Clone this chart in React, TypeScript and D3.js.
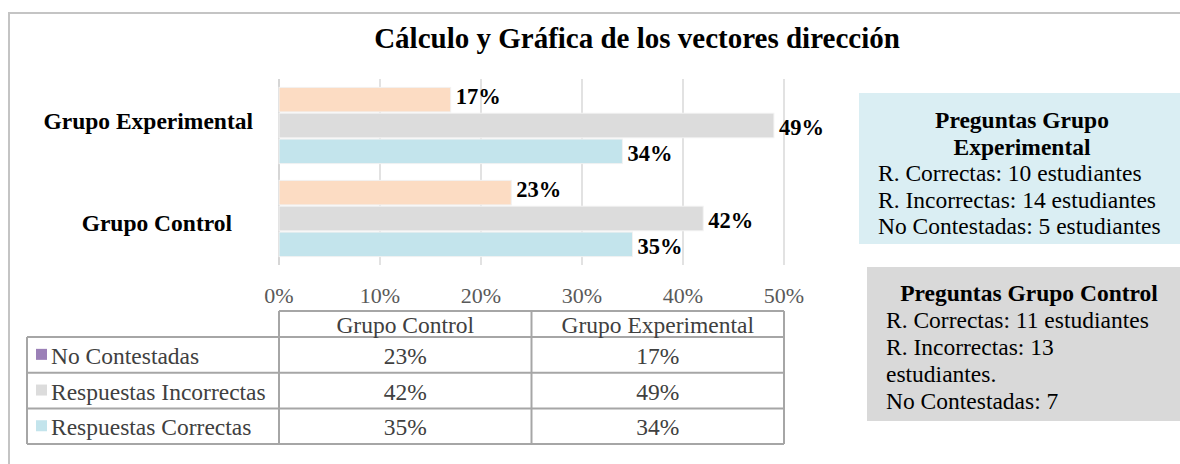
import React from "react";
import * as d3 from "d3";

const categories = ["Grupo Experimental", "Grupo Control"];
const series = ["No Contestadas", "Respuestas Incorrectas", "Respuestas Correctas"];
const valuesExperimental = [0.17, 0.49, 0.34];
const valuesControl = [0.23, 0.42, 0.35];
const barColors = ["#FCDCC3", "#DCDCDC", "#C3E4EC"];
const legendColors = ["#9B80B7", "#DCDCDC", "#C3E4EC"];
const xTicks = [0, 0.1, 0.2, 0.3, 0.4, 0.5];
const tableColumns = ["Grupo Control", "Grupo Experimental"];

const expBoxTitle = ["Preguntas Grupo", "Experimental"];
const expBoxLines = ["R. Correctas: 10 estudiantes", "R. Incorrectas: 14 estudiantes", "No Contestadas: 5 estudiantes"];
const ctlBoxTitle = ["Preguntas Grupo Control"];
const ctlBoxLines = ["R. Correctas: 11 estudiantes", "R. Incorrectas: 13", "estudiantes.", "No Contestadas: 7"];

const FONT = "'Liberation Serif', 'Times New Roman', serif";

export default function App() {
  const W = 1180, H = 464;
  const x = d3.scaleLinear().domain([0, 0.5]).range([279, 784]);
  const y = d3.scaleBand<string>().domain(categories).range([79, 265]).paddingInner(0.18).paddingOuter(0.09);
  const yInner = d3.scaleBand<string>().domain(series).range([0, y.bandwidth()]).paddingInner(0.05);
  const dataByCat: Record<string, number[]> = {
    "Grupo Experimental": valuesExperimental,
    "Grupo Control": valuesControl,
  };
  const fmt = d3.format(".0%");
  const catLabelX: Record<string, number> = { "Grupo Experimental": 253, "Grupo Control": 232 };
  const catLabelDy: Record<string, number> = { "Grupo Experimental": -5, "Grupo Control": 4 };

  // table geometry
  const tLeft = 27, tHeadTop = 311, tHeadBot = 337, rowH = 35.7;
  const colX = [x(0), (x(0) + x(0.5)) / 2, x(0.5)];

  return (
    <svg width={W} height={H} style={{ position: "absolute", left: 0, top: 0, background: "#fff" }} fontFamily={FONT}>
      <rect x={9} y={13} width={1200} height={500} fill="#fff" stroke="#C4C4C4" strokeWidth={2} />
      <text x={637} y={48} textAnchor="middle" fontSize={29} fontWeight="bold" fill="#000">
        Cálculo y Gráfica de los vectores dirección
      </text>

      {/* gridlines */}
      {xTicks.map((t) => (
        <line key={t} x1={x(t)} x2={x(t)} y1={79} y2={265} stroke={t === 0 ? "#C8C8C8" : "#D9D9D9"} strokeWidth={1.5} />
      ))}

      {/* bars */}
      {categories.map((c) => (
        <g key={c}>
          {series.map((s, i) => {
            const v = dataByCat[c][i];
            const by = (y(c) as number) + (yInner(s) as number);
            const bh = yInner.bandwidth();
            const dy = i === 0 ? -3 : 2;
            return (
              <g key={s}>
                <rect x={x(0)} y={by} width={x(v) - x(0)} height={bh} fill={barColors[i]} stroke="#F2F2F2" strokeWidth={1} />
                <text x={x(v) + 5} y={by + bh / 2 + dy} dominantBaseline="central" fontSize={22.5} fontWeight="bold" fill="#000">
                  {fmt(v)}
                </text>
              </g>
            );
          })}
          <text x={catLabelX[c]} y={(y(c) as number) + y.bandwidth() / 2 + catLabelDy[c]} dominantBaseline="central" textAnchor="end" fontSize={23.5} fontWeight="bold" fill="#000">
            {c}
          </text>
        </g>
      ))}

      {/* tick labels */}
      {xTicks.map((t) => (
        <text key={t} x={x(t)} y={295} textAnchor="middle" dominantBaseline="central" fontSize={22} fill="#595959">
          {fmt(t)}
        </text>
      ))}

      {/* data table */}
      <g stroke="#A6A6A6" strokeWidth={2} fill="none">
        <line x1={colX[0]} x2={colX[2]} y1={tHeadTop} y2={tHeadTop} />
        <line x1={tLeft} x2={colX[2]} y1={tHeadBot} y2={tHeadBot} />
        {series.map((s, i) => (
          <line key={s} x1={tLeft} x2={colX[2]} y1={tHeadBot + rowH * (i + 1)} y2={tHeadBot + rowH * (i + 1)} />
        ))}
        <line x1={tLeft} x2={tLeft} y1={tHeadBot} y2={tHeadBot + rowH * 3} />
        {colX.map((cx, i) => (
          <line key={i} x1={cx} x2={cx} y1={tHeadTop} y2={tHeadBot + rowH * 3} />
        ))}
      </g>
      {tableColumns.map((col, j) => (
        <text key={col} x={(colX[j] + colX[j + 1]) / 2} y={(tHeadTop + tHeadBot) / 2 + 1} textAnchor="middle" dominantBaseline="central" fontSize={23.5} fill="#404040">
          {col}
        </text>
      ))}
      {series.map((s, i) => {
        const cy = tHeadBot + rowH * i + rowH / 2;
        return (
          <g key={s}>
            <rect x={36} y={cy - 6} width={11} height={11} fill={legendColors[i]} />
            <text x={51} y={cy + 1} dominantBaseline="central" fontSize={23.5} fill="#404040">{s}</text>
            {tableColumns.map((col, j) => {
              const v = col === "Grupo Control" ? valuesControl[i] : valuesExperimental[i];
              return (
                <text key={col} x={(colX[j] + colX[j + 1]) / 2} y={cy + 1} textAnchor="middle" dominantBaseline="central" fontSize={23.5} fill="#404040">
                  {fmt(v)}
                </text>
              );
            })}
          </g>
        );
      })}

      {/* info boxes */}
      <rect x={859} y={93} width={400} height={151} fill="#DAEEF3" />
      {expBoxTitle.map((t, i) => (
        <text key={t} x={1022} y={120 + i * 26.5} textAnchor="middle" dominantBaseline="central" fontSize={23.5} fontWeight="bold" fill="#000">{t}</text>
      ))}
      {expBoxLines.map((t, i) => (
        <text key={t} x={878} y={173 + i * 26.5} dominantBaseline="central" fontSize={23.5} fill="#000">{t}</text>
      ))}

      <rect x={867} y={267} width={400} height={154} fill="#D9D9D9" />
      {ctlBoxTitle.map((t, i) => (
        <text key={t} x={1029} y={293 + i * 27} textAnchor="middle" dominantBaseline="central" fontSize={23.5} fontWeight="bold" fill="#000">{t}</text>
      ))}
      {ctlBoxLines.map((t, i) => (
        <text key={t} x={886} y={320 + i * 27} dominantBaseline="central" fontSize={23.5} fill="#000">{t}</text>
      ))}
    </svg>
  );
}
